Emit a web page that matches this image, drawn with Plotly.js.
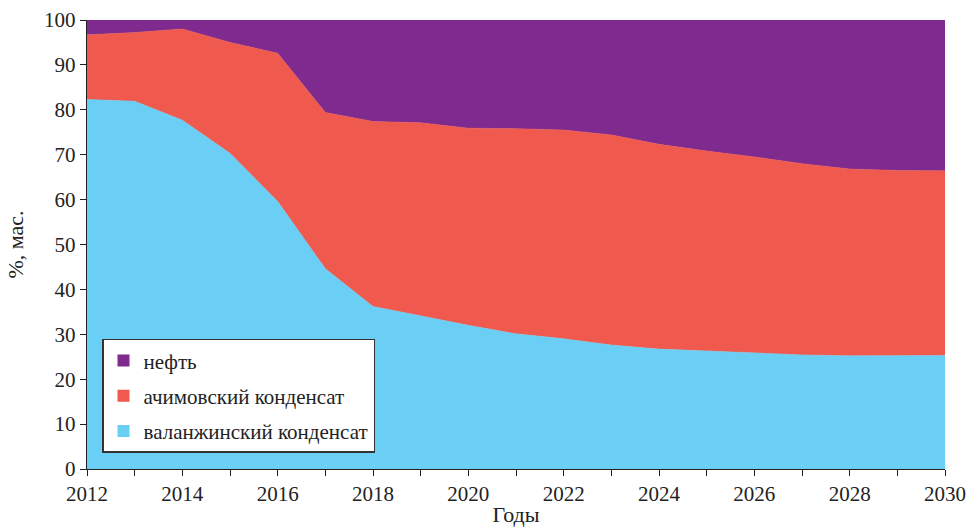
<!DOCTYPE html>
<html>
<head>
<meta charset="utf-8">
<script src="https://cdn.plot.ly/plotly-3.0.1.min.js"></script>
<style>
  html, body { margin: 0; padding: 0; background: #fff; }
  #chart { width: 967px; height: 527px; }
</style>
</head>
<body>
<div id="chart"></div>
<script>
// Годы
const years = [2012, 2013, 2014, 2015, 2016, 2017, 2018, 2019, 2020, 2021,
               2022, 2023, 2024, 2025, 2026, 2027, 2028, 2029, 2030];

// Доли компонентов, % мас.
const valanzhin = [82.3, 81.9, 77.7, 70.3, 59.6, 44.6, 36.2, 34.1, 32.0, 30.1,
                   29.0, 27.6, 26.7, 26.3, 25.8, 25.4, 25.2, 25.2, 25.3];
const achimov   = [14.4, 15.3, 20.3, 24.7, 33.0, 34.8, 41.2, 43.0, 43.9, 45.7,
                   46.5, 46.8, 45.6, 44.5, 43.7, 42.6, 41.6, 41.3, 41.1];
const neft      = [3.3, 2.8, 2.0, 5.0, 7.4, 20.6, 22.6, 22.9, 24.1, 24.2,
                   24.5, 25.6, 27.7, 29.2, 30.5, 32.0, 33.2, 33.5, 33.6];

const names = ['валанжинский конденсат', 'ачимовский конденсат', 'нефть'];
const colors = ['#6acef5', '#f05a4e', '#7f2a8f'];
const series = [valanzhin, achimov, neft];

const font = '"Liberation Serif"';

const traces = [];
// stacked areas
series.forEach((vals, i) => {
  traces.push({
    type: 'scatter', mode: 'lines', x: years, y: vals,
    stackgroup: 'one', fillcolor: colors[i],
    line: { width: 0.6, color: colors[i] },
    name: names[i], showlegend: false, hoverinfo: 'x+y+name'
  });
});
// legend entries with square swatches, top to bottom: нефть, ачимовский, валанжинский
[2, 1, 0].forEach((i, k) => {
  traces.push({
    type: 'scatter', mode: 'markers', x: [null], y: [null],
    name: names[i], legendgroup: 'g' + k, legendrank: k + 1,
    marker: { symbol: 'square', size: 12, color: colors[i] }
  });
});

const layout = {
  width: 967, height: 527,
  margin: { l: 87, r: 22, t: 20, b: 58 },
  paper_bgcolor: '#fff', plot_bgcolor: '#fff',
  font: { family: font, size: 21, color: '#222' },
  showlegend: true,
  legend: {
    x: 0.0175, y: 0.036, xanchor: 'left', yanchor: 'bottom',
    bgcolor: '#fff', bordercolor: '#333', borderwidth: 1.5,
    traceorder: 'grouped', tracegroupgap: 5,
    font: { family: font, size: 21, color: '#222' }
  },
  xaxis: {
    range: [2012, 2030], dtick: 2, tick0: 2012,
    ticks: 'outside', ticklen: 6, tickcolor: '#222', tickwidth: 1,
    minor: { dtick: 1, ticks: 'outside', ticklen: 6, tickcolor: '#222' },
    showline: true, linecolor: '#222', linewidth: 1.2,
    showgrid: false, zeroline: false,
    tickfont: { family: font, size: 21, color: '#222' },
    title: { text: 'Годы', font: { family: font, size: 22, color: '#222' }, standoff: 11 }
  },
  yaxis: {
    range: [0, 100], dtick: 10,
    ticks: 'outside', ticklen: 6, tickcolor: '#222', tickwidth: 1,
    showline: true, linecolor: '#222', linewidth: 1.2,
    showgrid: false, zeroline: false,
    tickfont: { family: font, size: 21, color: '#222' },
    title: { text: '%, мас.', font: { family: font, size: 22, color: '#222' }, standoff: 14 }
  }
};

Plotly.newPlot('chart', traces, layout, { staticPlot: true });
</script>
</body>
</html>
